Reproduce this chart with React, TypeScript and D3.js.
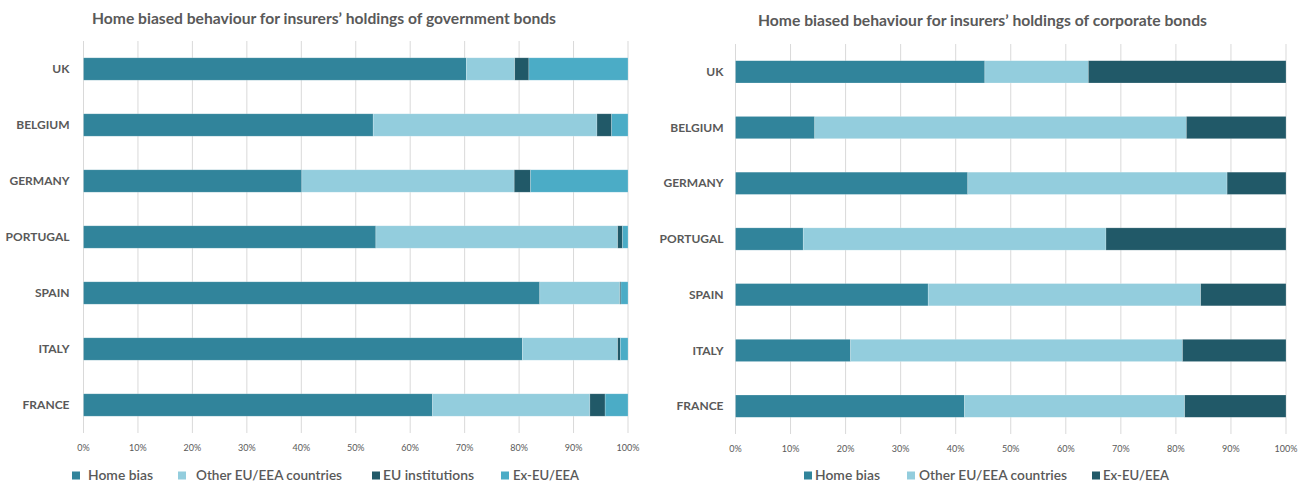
import React from "react";
import * as d3 from "d3";

const categories = ["UK", "BELGIUM", "GERMANY", "PORTUGAL", "SPAIN", "ITALY", "FRANCE"];
const tickValues = [0, 10, 20, 30, 40, 50, 60, 70, 80, 90, 100];

// Government bonds (%)
const govHomeBias = [70.3, 53.2, 40.1, 53.7, 83.8, 80.6, 64.1];
const govOtherEU = [8.9, 41.1, 39.0, 44.4, 14.7, 17.5, 28.9];
const govEUInst = [2.6, 2.7, 3.0, 0.9, 0.2, 0.5, 2.8];
const govExEU = [18.2, 3.0, 17.9, 1.0, 1.3, 1.4, 4.2];

// Corporate bonds (%)
const corpHomeBias = [45.3, 14.4, 42.2, 12.3, 35.0, 20.9, 41.6];
const corpOtherEU = [18.8, 67.5, 47.1, 55.0, 49.5, 60.3, 40.0];
const corpExEU = [35.9, 18.1, 10.7, 32.7, 15.5, 18.8, 18.4];

const govSeriesNames = ["Home bias", "Other EU/EEA countries", "EU institutions", "Ex-EU/EEA"];
const corpSeriesNames = ["Home bias", "Other EU/EEA countries", "Ex-EU/EEA"];

const govTitle = "Home biased behaviour for insurers\u2019 holdings of government bonds";
const corpTitle = "Home biased behaviour for insurers\u2019 holdings of corporate bonds";

const C_HOME = "#31849B";
const C_OTHER = "#93CDDD";
const C_DARK = "#215968";
const C_EX = "#4BACC6";

const FONT = "Lato, 'Open Sans', sans-serif";
const TXT = "#595959";

type Layout = {
  x0: number; x1: number; y0: number; y1: number; labelGap: number;
  titleX: number; titleW: number; titleY: number;
  tickY: number; legendY: number;
  legend: { sq: number; tx: number; tw: number }[];
};

function Panel({ series, names, colors, title, L }: {
  series: number[][]; names: string[]; colors: string[]; title: string; L: Layout;
}) {
  const x = d3.scaleLinear().domain([0, 100]).range([L.x0, L.x1]);
  const y = d3.scaleBand<string>().domain(categories).range([L.y0, L.y1]).paddingInner(0.6).paddingOuter(0.3);
  const rows = categories.map((c, i) => {
    const o: any = { cat: c };
    names.forEach((n, k) => (o[n] = series[k][i]));
    return o;
  });
  const stacked = d3.stack<any>().keys(names)(rows);
  return (
    <g>
      <text x={L.titleX} y={L.titleY} fontFamily={FONT} fontWeight={700} fontSize={15} fill={TXT}
        textLength={L.titleW} lengthAdjust="spacingAndGlyphs">{title}</text>
      {tickValues.map((t) => (
        <line key={t} x1={x(t)} x2={x(t)} y1={L.y0} y2={L.y1} stroke="#d9d9d9" strokeWidth={1} />
      ))}
      {stacked.map((s, k) => (
        <g key={names[k]}>
          {s.map((d, i) => (
            <rect key={i} x={x(d[0])} y={y(categories[i])} width={Math.max(0, x(d[1]) - x(d[0]))}
              height={y.bandwidth()} fill={colors[k]} stroke="rgba(255,255,255,0.35)" strokeWidth={0.6} />
          ))}
        </g>
      ))}
      {categories.map((c) => (
        <text key={c} x={L.x0 - L.labelGap} y={(y(c) as number) + y.bandwidth() / 2} dy="0.35em" textAnchor="end"
          fontFamily={FONT} fontWeight={700} fontSize={12} fill={TXT}>{c}</text>
      ))}
      {tickValues.map((t) => (
        <text key={t} x={x(t)} y={L.tickY} dy="0.35em" textAnchor="middle" fontFamily={FONT}
          fontSize={9} fill={TXT}>{t + "%"}</text>
      ))}
      {names.map((n, k) => (
        <g key={n}>
          <rect x={L.legend[k].sq} y={L.legendY - 4} width={8} height={8} fill={colors[k]} />
          <text x={L.legend[k].tx} y={L.legendY} dy="0.35em" fontFamily={FONT} fontWeight={600} fontSize={13}
            fill={TXT} textLength={L.legend[k].tw} lengthAdjust="spacingAndGlyphs">{n}</text>
        </g>
      ))}
    </g>
  );
}

export default function App() {
  const left: Layout = {
    x0: 83.5, x1: 628, y0: 41, y1: 433, labelGap: 14,
    titleX: 92, titleW: 464, titleY: 24,
    tickY: 447.5, legendY: 475.5,
    legend: [
      { sq: 72, tx: 88, tw: 65 },
      { sq: 178, tx: 196, tw: 146 },
      { sq: 372, tx: 383, tw: 91 },
      { sq: 501, tx: 513, tw: 66 },
    ],
  };
  const right: Layout = {
    x0: 735.5, x1: 1286, y0: 44, y1: 434, labelGap: 12,
    titleX: 758, titleW: 449, titleY: 26,
    tickY: 449, legendY: 475.5,
    legend: [
      { sq: 804, tx: 815, tw: 65 },
      { sq: 907, tx: 919, tw: 148 },
      { sq: 1092, tx: 1103, tw: 66 },
    ],
  };
  return (
    <svg width={1305} height={483} style={{ position: "absolute", left: 0, top: 0, background: "#fff" }}>
      <rect width={1305} height={483} fill="#fff" />
      <Panel series={[govHomeBias, govOtherEU, govEUInst, govExEU]} names={govSeriesNames}
        colors={[C_HOME, C_OTHER, C_DARK, C_EX]} title={govTitle} L={left} />
      <Panel series={[corpHomeBias, corpOtherEU, corpExEU]} names={corpSeriesNames}
        colors={[C_HOME, C_OTHER, C_DARK]} title={corpTitle} L={right} />
    </svg>
  );
}
